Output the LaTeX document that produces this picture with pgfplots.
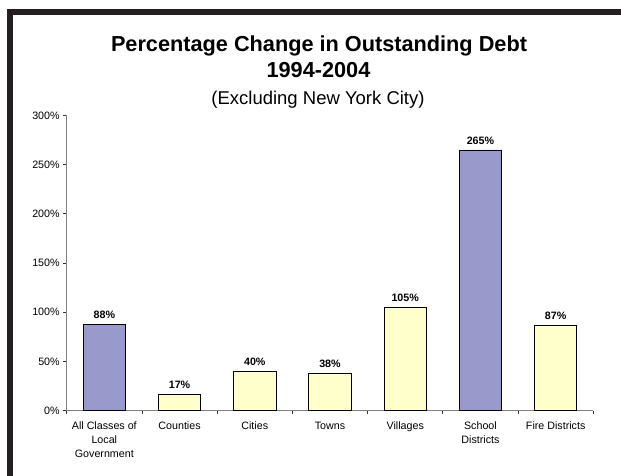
\documentclass[border=0pt]{standalone}
\usepackage{pgfplots}
\pgfplotsset{compat=1.18}
\usepackage{fontspec}
\setmainfont{Liberation Sans}
\definecolor{barpurple}{HTML}{9999CC}
\definecolor{baryellow}{HTML}{FFFFCC}
\definecolor{framecol}{HTML}{231F20}
\begin{document}
\begin{tikzpicture}[x=1pt,y=1pt]
\path[use as bounding box] (0,0) rectangle (621,476);
\fill[framecol] (7,466.5) rectangle (621,461);
\fill[framecol] (7,0) rectangle (12.5,466.5);
\node[font=\bfseries\fontsize{21.7}{24}\selectfont, anchor=base, inner sep=0pt] at (319,424.3) {Percentage Change in Outstanding Debt};
\node[font=\bfseries\fontsize{21.7}{24}\selectfont, anchor=base, inner sep=0pt] at (318.5,398.3) {1994-2004};
\node[font=\fontsize{18.5}{22}\selectfont, anchor=base, inner sep=0pt] at (318,371) {(Excluding New York City)};
\begin{axis}[
  at={(66.7pt,65.3pt)}, anchor=south west,
  scale only axis, width=526.6pt, height=295.2pt,
  xmin=-0.5, xmax=6.5, ymin=0, ymax=300,
  axis x line*=bottom, axis y line*=left,
  axis line style={draw=black!50, line width=1pt},
  /pgf/number format/assume math mode=true,
  ytick={0,50,...,300},
  yticklabel={\pgfmathprintnumber{\tick}\%},
  xtick={0,...,6},
  xticklabels={{All Classes of\\Local\\Government},Counties,Cities,Towns,Villages,{School\\Districts},Fire Districts},
  major x tick style={draw=none},
  minor xtick={-0.5,0.5,...,6.5},
  tick align=outside,
  major tick length=3.5pt, minor tick length=3.5pt,
  tick style={black!80, line width=0.8pt},
  ticklabel style={font=\fontsize{10.7}{14}\selectfont},
  xticklabel style={align=center, yshift=-4pt},
  ybar, bar width=0.563,
  nodes near coords={\pgfmathprintnumber{\pgfplotspointmeta}\%},
  nodes near coords style={font=\bfseries\fontsize{10.7}{12}\selectfont, yshift=2pt},
  clip=false,
]
\addplot[fill=barpurple, draw=black, line width=0.8pt, bar shift=0pt] coordinates {(0,88) (5,265)};
\addplot[fill=baryellow, draw=black, line width=0.8pt, bar shift=0pt] coordinates {(1,17) (2,40) (3,38) (4,105) (6,87)};
\end{axis}
\end{tikzpicture}
\end{document}
